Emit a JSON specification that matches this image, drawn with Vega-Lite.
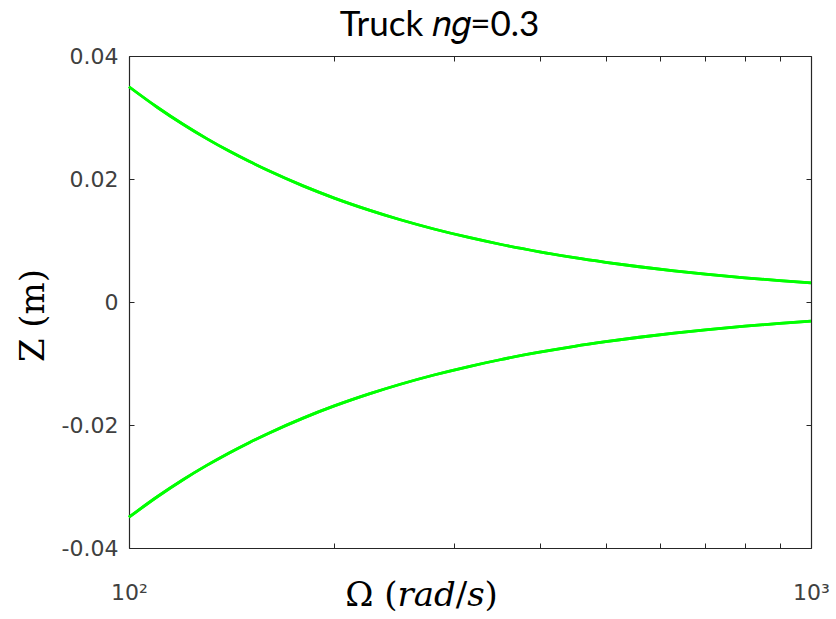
{
  "$schema": "https://vega.github.io/schema/vega-lite/v6.json",
  "width": 682,
  "height": 492,
  "autosize": {"type": "none"},
  "padding": {"left": 129, "top": 56, "right": 25, "bottom": 71},
  "background": "white",
  "config": {"view": {"stroke": null}, "axis": {"grid": false}},
  "data": {
    "values": [
      {"omega": 100, "z": 0.035, "branch": "upper"},
      {"omega": 110, "z": 0.03167, "branch": "upper"},
      {"omega": 120, "z": 0.0289, "branch": "upper"},
      {"omega": 130, "z": 0.02657, "branch": "upper"},
      {"omega": 140, "z": 0.02458, "branch": "upper"},
      {"omega": 150, "z": 0.02287, "branch": "upper"},
      {"omega": 160, "z": 0.02137, "branch": "upper"},
      {"omega": 180, "z": 0.01888, "branch": "upper"},
      {"omega": 200, "z": 0.0169, "branch": "upper"},
      {"omega": 225, "z": 0.01494, "branch": "upper"},
      {"omega": 250, "z": 0.01337, "branch": "upper"},
      {"omega": 280, "z": 0.01187, "branch": "upper"},
      {"omega": 315, "z": 0.01049, "branch": "upper"},
      {"omega": 350, "z": 0.00939, "branch": "upper"},
      {"omega": 400, "z": 0.00817, "branch": "upper"},
      {"omega": 450, "z": 0.00721, "branch": "upper"},
      {"omega": 500, "z": 0.00646, "branch": "upper"},
      {"omega": 560, "z": 0.00573, "branch": "upper"},
      {"omega": 630, "z": 0.00507, "branch": "upper"},
      {"omega": 700, "z": 0.00454, "branch": "upper"},
      {"omega": 800, "z": 0.00394, "branch": "upper"},
      {"omega": 900, "z": 0.00349, "branch": "upper"},
      {"omega": 1000, "z": 0.00312, "branch": "upper"},
      {"omega": 100, "z": -0.035, "branch": "lower"},
      {"omega": 110, "z": -0.03167, "branch": "lower"},
      {"omega": 120, "z": -0.0289, "branch": "lower"},
      {"omega": 130, "z": -0.02657, "branch": "lower"},
      {"omega": 140, "z": -0.02458, "branch": "lower"},
      {"omega": 150, "z": -0.02287, "branch": "lower"},
      {"omega": 160, "z": -0.02137, "branch": "lower"},
      {"omega": 180, "z": -0.01888, "branch": "lower"},
      {"omega": 200, "z": -0.0169, "branch": "lower"},
      {"omega": 225, "z": -0.01494, "branch": "lower"},
      {"omega": 250, "z": -0.01337, "branch": "lower"},
      {"omega": 280, "z": -0.01187, "branch": "lower"},
      {"omega": 315, "z": -0.01049, "branch": "lower"},
      {"omega": 350, "z": -0.00939, "branch": "lower"},
      {"omega": 400, "z": -0.00817, "branch": "lower"},
      {"omega": 450, "z": -0.00721, "branch": "lower"},
      {"omega": 500, "z": -0.00646, "branch": "lower"},
      {"omega": 560, "z": -0.00573, "branch": "lower"},
      {"omega": 630, "z": -0.00507, "branch": "lower"},
      {"omega": 700, "z": -0.00454, "branch": "lower"},
      {"omega": 800, "z": -0.00394, "branch": "lower"},
      {"omega": 900, "z": -0.00349, "branch": "lower"},
      {"omega": 1000, "z": -0.00312, "branch": "lower"}
    ]
  },
  "layer": [
    {
      "mark": {"type": "line", "color": "#00ff00", "strokeWidth": 2.8, "interpolate": "monotone"},
      "encoding": {
        "x": {
          "field": "omega", "type": "quantitative",
          "scale": {"type": "log", "domain": [100, 1000], "nice": false},
          "axis": {
            "orient": "bottom",
            "values": [100, 200, 300, 400, 500, 600, 700, 800, 900, 1000],
            "labelExpr": "datum.value == 100 ? '10²' : datum.value == 1000 ? '10³' : ''",
            "labelFont": "DejaVu Sans", "labelFontSize": 22, "labelColor": "#404040",
            "labelBaseline": "alphabetic", "labelPadding": 56, "labelFlush": false, "labelOverlap": false,
            "tickSize": -5, "tickColor": "#262626", "domainColor": "#262626", "domainWidth": 1.2,
            "title": "Ω (𝑟𝑎𝑑/𝑠)",
            "titleFont": "DejaVu Serif", "titleFontSize": 34, "titleFontWeight": "normal", "titleColor": "black",
            "titleX": 292, "titleY": 57, "titleBaseline": "alphabetic", "titleAnchor": "middle"
          }
        },
        "y": {
          "field": "z", "type": "quantitative",
          "scale": {"domain": [-0.04, 0.04], "nice": false, "zero": false},
          "axis": {
            "orient": "left",
            "values": [-0.04, -0.02, 0, 0.02, 0.04],
            "labelExpr": "datum.value == 0 ? '0' : replace(format(datum.value, '.2f'), '−', '-')",
            "labelFont": "DejaVu Sans", "labelFontSize": 22, "labelColor": "#404040",
            "labelPadding": 16, "labelFlush": false, "labelOverlap": false,
            "tickSize": -5, "tickColor": "#262626", "domainColor": "#262626", "domainWidth": 1.2,
            "title": "Z (m)",
            "titleFont": "DejaVu Serif", "titleFontSize": 34, "titleFontWeight": "normal", "titleColor": "black",
            "titleX": -96, "titleY": 259, "titleAngle": -90, "titleBaseline": "middle", "titleAnchor": "middle"
          }
        },
        "detail": {"field": "branch"}
      }
    },
    {
      "mark": {"type": "line", "color": "#00ff00", "strokeWidth": 2.8, "interpolate": "monotone"},
      "encoding": {
        "x": {
          "field": "omega", "type": "quantitative",
          "scale": {"type": "log", "domain": [100, 1000], "nice": false},
          "axis": {
            "orient": "top",
            "values": [100, 200, 300, 400, 500, 600, 700, 800, 900, 1000],
            "labels": false,
            "tickSize": -5, "tickColor": "#262626", "domainColor": "#262626", "domainWidth": 1.2,
            "title": "Truck 𝑛𝑔=0.3",
            "titleFont": "Lato", "titleFontSize": 35, "titleFontWeight": "normal", "titleColor": "black",
            "titleX": 310, "titleY": -21, "titleBaseline": "alphabetic", "titleAnchor": "middle"
          }
        },
        "y": {
          "field": "z", "type": "quantitative",
          "scale": {"domain": [-0.04, 0.04], "nice": false, "zero": false},
          "axis": {
            "orient": "right",
            "values": [-0.04, -0.02, 0, 0.02, 0.04],
            "labels": false, "title": null,
            "tickSize": -5, "tickColor": "#262626", "domainColor": "#262626", "domainWidth": 1.2
          }
        },
        "detail": {"field": "branch"}
      }
    }
  ],
  "resolve": {"axis": {"x": "independent", "y": "independent"}}
}
